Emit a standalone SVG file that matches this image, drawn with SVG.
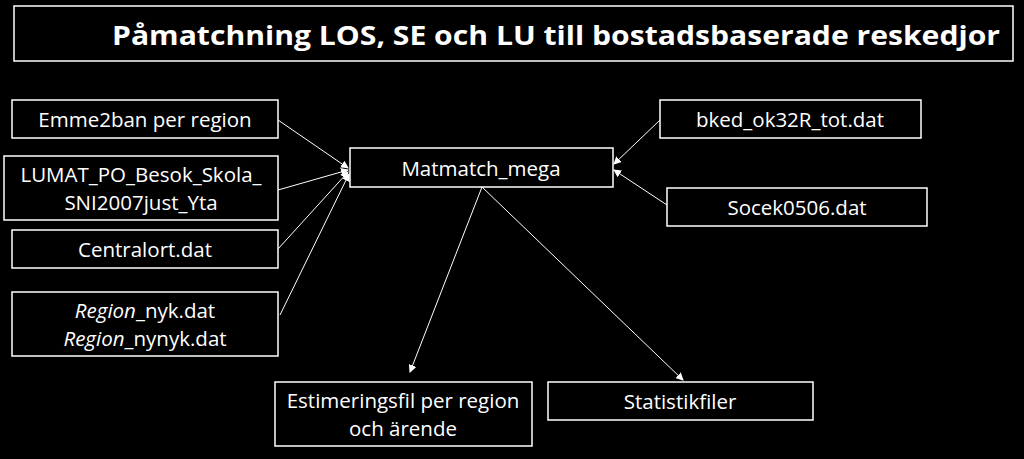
<svg xmlns="http://www.w3.org/2000/svg" width="1024" height="459" viewBox="0 0 1024 459">
<style>
.b{fill:#000;stroke:#fff;stroke-width:1.5}
.t{font-family:"Open Sans","Liberation Sans",sans-serif;font-size:20.5px;fill:#fff;text-anchor:middle}
.c line{stroke:#fff;stroke-width:1;marker-end:url(#a)}
</style>
<defs><marker id="a" markerWidth="8" markerHeight="8" refX="7" refY="4" orient="auto" markerUnits="userSpaceOnUse"><path d="M0,0 L8,4 L0,8 Z" fill="#fff"/></marker></defs>
<rect width="1024" height="459" fill="#000"/>
<g id="title"><rect class="b" x="14" y="6" width="999" height="55" stroke="#ccc"/><text x="1000" y="45" font-family="'Open Sans','Liberation Sans',sans-serif" font-weight="bold" font-size="27" fill="#fff" text-anchor="end" textLength="888" lengthAdjust="spacingAndGlyphs">Påmatchning LOS, SE och LU till bostadsbaserade reskedjor</text></g>
<g id="emme"><rect class="b" x="12" y="100" width="266" height="38"/><text class="t" x="145" y="127">Emme2ban per region</text></g>
<g id="lumat"><rect class="b" x="4" y="156" width="274" height="64"/><text class="t" x="141" y="182">LUMAT_PO_Besok_Skola_</text><text class="t" x="141" y="210">SNI2007just_Yta</text></g>
<g id="central"><rect class="b" x="12" y="230" width="266" height="38"/><text class="t" x="145" y="257">Centralort.dat</text></g>
<g id="region"><rect class="b" x="12" y="292" width="266" height="64"/><text class="t" x="145" y="318"><tspan font-style="italic">Region</tspan>_nyk.dat</text><text class="t" x="145" y="346"><tspan font-style="italic">Region</tspan>_nynyk.dat</text></g>
<g id="mat"><rect class="b" x="350" y="148" width="263" height="39"/><text class="t" x="481" y="176">Matmatch_mega</text></g>
<g id="bked"><rect class="b" x="660" y="100" width="261" height="38"/><text class="t" x="790" y="127">bked_ok32R_tot.dat</text></g>
<g id="socek"><rect class="b" x="667" y="188" width="260" height="38"/><text class="t" x="797" y="215">Socek0506.dat</text></g>
<g id="est"><rect class="b" x="275" y="382" width="257" height="64"/><text class="t" x="403" y="408">Estimeringsfil per region</text><text class="t" x="403" y="436">och ärende</text></g>
<g id="stat"><rect class="b" x="548" y="382" width="265" height="38"/><text class="t" x="680" y="409">Statistikfiler</text></g>
<g class="c">
<line x1="278" y1="120" x2="348" y2="168"/>
<line x1="278" y1="190" x2="348" y2="170"/>
<line x1="278" y1="249" x2="348" y2="172"/>
<line x1="280" y1="315" x2="349" y2="174"/>
<line x1="660" y1="120" x2="614" y2="164"/>
<line x1="667" y1="205" x2="614" y2="170"/>
<line x1="482" y1="187" x2="410" y2="372"/>
<line x1="482" y1="187" x2="683" y2="380"/>
</g>
</svg>
